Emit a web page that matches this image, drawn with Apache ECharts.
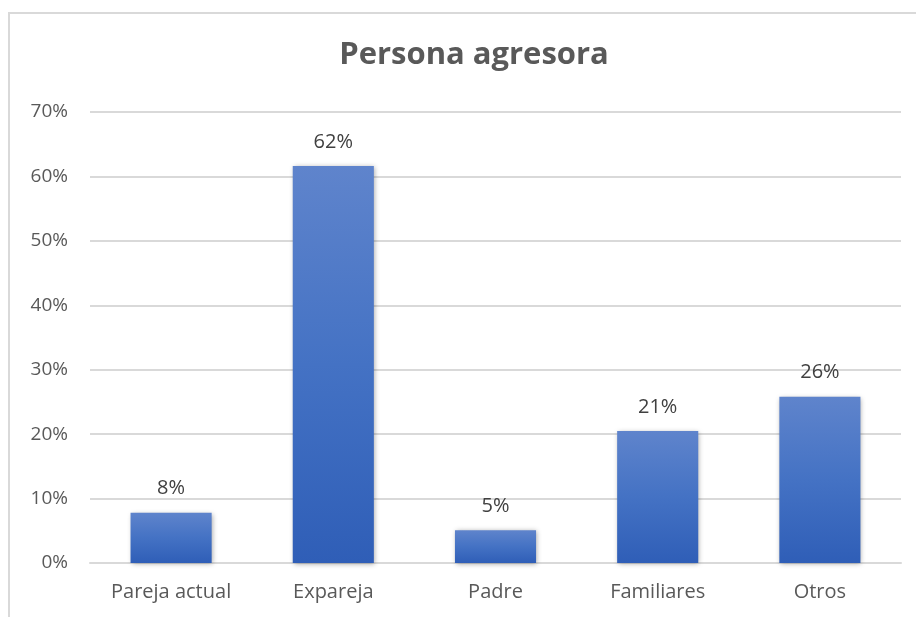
<!DOCTYPE html>
<html>
<head>
<meta charset="utf-8">
<script src="https://cdn.jsdelivr.net/npm/echarts@6/dist/echarts.min.js"></script>
<style>
  html, body { margin: 0; padding: 0; background: #fff; overflow: hidden; }
  #frame {
    position: absolute; left: 8px; top: 12px; width: 960px; height: 680px;
    border: 2px solid #d9d9d9; box-sizing: border-box;
  }
  #chart { position: absolute; left: 0; top: 0; width: 916px; height: 617px; }
</style>
</head>
<body>
<div id="frame"></div>
<div id="chart"></div>
<script>
// categorías y valores (%)
const categories = ['Pareja actual', 'Expareja', 'Padre', 'Familiares', 'Otros'];
const values = [7.8, 61.6, 5.1, 20.5, 25.8];

const chart = echarts.init(document.getElementById('chart'));

const barColor = new echarts.graphic.LinearGradient(0, 0, 0, 1, [
  { offset: 0, color: '#5f84cc' },
  { offset: 0.5, color: '#4472c4' },
  { offset: 1, color: '#2f5eb7' }
]);

const font = 'Open Sans';

chart.setOption({
  animation: false,
  title: {
    text: 'Persona agresora',
    left: 469,
    textAlign: 'center',
    top: 35,
    textStyle: { fontFamily: font, fontSize: 31, fontWeight: 'bold', color: '#595959' }
  },
  grid: { left: 90, right: 15, top: 112, bottom: 54 },
  xAxis: {
    type: 'category',
    data: categories,
    axisLine: { lineStyle: { color: '#d9d9d9', width: 2 } },
    axisTick: { show: false },
    axisLabel: { color: '#595959', fontFamily: font, fontSize: 20, margin: 19 }
  },
  yAxis: {
    type: 'value',
    min: 0,
    max: 70,
    interval: 10,
    axisLine: { show: false },
    axisTick: { show: false },
    splitLine: { lineStyle: { color: '#d9d9d9', width: 2 } },
    axisLabel: {
      color: '#595959', fontFamily: font, fontSize: 19, margin: 22,
      formatter: v => v + '%'
    }
  },
  series: [{
    type: 'bar',
    data: values,
    barWidth: '50%',
    itemStyle: {
      color: barColor,
      shadowColor: 'rgba(0,0,0,0.35)',
      shadowBlur: 5,
      shadowOffsetX: 1,
      shadowOffsetY: 1
    },
    label: {
      show: true,
      position: 'top',
      distance: 14,
      color: '#404040',
      fontFamily: font,
      fontSize: 20,
      formatter: p => Math.round(p.value) + '%'
    }
  }]
});
</script>
</body>
</html>
